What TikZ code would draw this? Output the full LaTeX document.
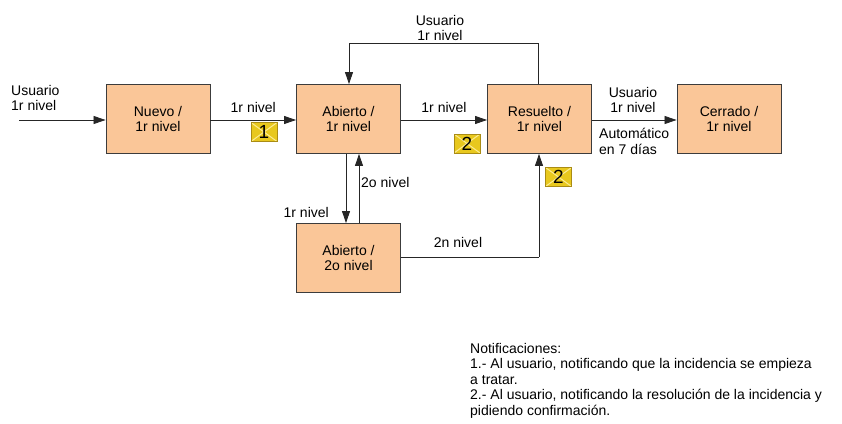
\documentclass[tikz,border=0pt]{standalone}
\usepackage{fontspec}
\setmainfont{Liberation Sans}
\usetikzlibrary{arrows.meta}
\definecolor{boxfill}{RGB}{250,198,152}
\definecolor{boxline}{RGB}{60,60,60}
\definecolor{envfill}{RGB}{232,200,30}
\definecolor{envline}{RGB}{170,140,20}
\definecolor{envx}{RGB}{252,236,150}
\tikzset{
  state/.style={draw=boxline, line width=0.9pt, fill=boxfill, minimum width=104pt, minimum height=69pt, inner sep=0pt, align=center, font=\fontsize{14}{15.5}\selectfont},
  lbl/.style={inner sep=0pt, align=center, font=\fontsize{14}{15.5}\selectfont},
  conn/.style={line width=0.8pt, draw=black!85, -{Triangle[length=12pt,width=8pt]}},
  plain/.style={line width=0.8pt, draw=black!85},
  envelope/.style={draw=envline, fill=envfill, minimum width=26pt, minimum height=19pt, inner sep=0pt, font=\fontsize{19}{19}\selectfont,
    path picture={\draw[envx, line width=1pt] (path picture bounding box.north west) -- (path picture bounding box.south east) (path picture bounding box.north east) -- (path picture bounding box.south west);}}
}
\begin{document}
\begin{tikzpicture}[x=1pt,y=-1pt]
\useasboundingbox (0,0) rectangle (842,423);
\node[state] (nuevo) at (158,119) {Nuevo /\\1r nivel};
\node[state] (ab1) at (348.5,119) {Abierto /\\1r nivel};
\node[state] (res) at (539.5,119) {Resuelto /\\1r nivel};
\node[state] (cer) at (729,119) {Cerrado /\\1r nivel};
\node[state] (ab2) at (348.5,258) {Abierto /\\2o nivel};

\coordinate (start) at (19,120);
\node[lbl, anchor=south west, align=left] (lstart) at (11,111) {Usuario\\1r nivel};
\draw[conn] (start) -- (nuevo.west |- start);

\draw[conn] (nuevo.east |- start) -- (ab1.west |- start) node[lbl, pos=0.5, above=7pt] (l1) {1r nivel};
\node[envelope] (env1) at (264,132) {1};

\draw[conn] (ab1.east |- start) -- (res.west |- start) node[lbl, pos=0.5, above=7pt] (l2) {1r nivel};
\node[envelope] (env2) at (467,143.5) {2};

\coordinate (tr) at (538,43);
\coordinate (tl) at (349,43);
\draw[plain] (res.north -| tr) -- (tr) -- (tl);
\draw[conn] (tl) -- (ab1.north -| tl);
\node[lbl, anchor=south] (ltop) at (440,41) {Usuario\\1r nivel};

\draw[conn] (res.east |- start) -- (cer.west |- start);
\node[lbl, anchor=south] (l3) at (633,113) {Usuario\\1r nivel};
\node[lbl, anchor=north west, align=left] (l4) at (599,128) {Automático\\en 7 días};

\coordinate (dx) at (346,0);
\coordinate (ux) at (359,0);
\draw[conn] (ab1.south -| dx) -- (ab2.north -| dx);
\draw[conn] (ab2.north -| ux) -- (ab1.south -| ux);
\node[lbl, anchor=east] (l5) at (329,212) {1r nivel};
\node[lbl, anchor=west] (l6) at (361,182) {2o nivel};

\coordinate (br) at (539,257);
\draw[plain] (ab2.east |- br) -- (br);
\draw[conn] (br) -- (res.south -| br);
\node[lbl] (l7) at (458,242) {2n nivel};
\node[envelope] (env3) at (558.5,177) {2};

\node[lbl, anchor=north west, align=left] (notes) at (470,343) {Notificaciones:\\1.- Al usuario, notificando que la incidencia se empieza\\a tratar.\\2.- Al usuario, notificando la resolución de la incidencia y\\pidiendo confirmación.};
\end{tikzpicture}
\end{document}
